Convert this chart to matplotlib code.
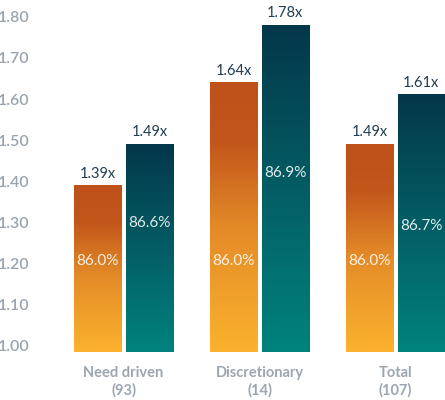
import numpy as np
import matplotlib.pyplot as plt
from matplotlib.colors import LinearSegmentedColormap

# Data
categories = ["Need driven\n(93)", "Discretionary\n(14)", "Total\n(107)"]
multiple_a = [1.39, 1.64, 1.49]
multiple_b = [1.49, 1.78, 1.61]
pct_a = ["86.0%", "86.0%", "86.0%"]
pct_b = ["86.6%", "86.9%", "86.7%"]
y_ticks = [1.00, 1.10, 1.20, 1.30, 1.40, 1.50, 1.60, 1.70, 1.80]

# label heights inside the bars
pct_y_a = [1.206, 1.206, 1.206]
pct_y_b = [1.299, 1.420, 1.291]

plt.rcParams['font.family'] = ['Lato', 'DejaVu Sans']

orange = LinearSegmentedColormap.from_list(
    "orange", [(0.0, "#fbb22e"), (0.45, "#e48c28"), (0.78, "#c2561b"), (1.0, "#bf511a")])
teal = LinearSegmentedColormap.from_list(
    "teal", [(0.0, "#00837d"), (0.5, "#045d64"), (1.0, "#03374a")])

fig = plt.figure(figsize=(4.45, 4.0), dpi=100)
ax = fig.add_axes([60 / 445, 48 / 400, 385 / 445, 352 / 400])

base = 0.985
width = 0.35
offset = 0.19
x = np.arange(len(categories))
grad = np.linspace(0, 1, 256).reshape(-1, 1)


def gradient_bar(xc, top, cmap):
    ax.imshow(grad, cmap=cmap, origin="lower", aspect="auto", interpolation="bilinear",
              extent=[xc - width / 2, xc + width / 2, base, top], zorder=2)


for i in range(len(categories)):
    xa = x[i] - offset
    xb = x[i] + offset
    gradient_bar(xa, multiple_a[i], orange)
    gradient_bar(xb, multiple_b[i], teal)
    ax.annotate(f"{multiple_a[i]:.2f}x", (xa, multiple_a[i]), xytext=(0, 3.5),
                textcoords="offset points", ha="center", va="bottom",
                fontsize=10.5, color="#1e3d52")
    ax.annotate(f"{multiple_b[i]:.2f}x", (xb, multiple_b[i]), xytext=(0, 3.5),
                textcoords="offset points", ha="center", va="bottom",
                fontsize=10.5, color="#1e3d52")
    ax.text(xa, pct_y_a[i], pct_a[i], ha="center", va="center",
            fontsize=11, color="white", alpha=0.88, zorder=3)
    ax.text(xb, pct_y_b[i], pct_b[i], ha="center", va="center",
            fontsize=11, color="white", alpha=0.88, zorder=3)

ax.set_xlim(-0.467, 2.364)
ax.set_ylim(base, 1.841)
ax.set_yticks(y_ticks)
ax.set_yticklabels([f"{v:.2f}" for v in y_ticks], fontweight="semibold")
ax.set_xticks(x)
ax.set_xticklabels(categories, fontweight="bold", linespacing=1.25)

ax.tick_params(axis="y", length=0, pad=22, labelsize=11.5, labelcolor="#9aa4ae")
ax.tick_params(axis="x", length=0, pad=10, labelsize=10.5, labelcolor="#9ba6b0")
for s in ax.spines.values():
    s.set_visible(False)

fig.savefig("out.png", dpi=100)
